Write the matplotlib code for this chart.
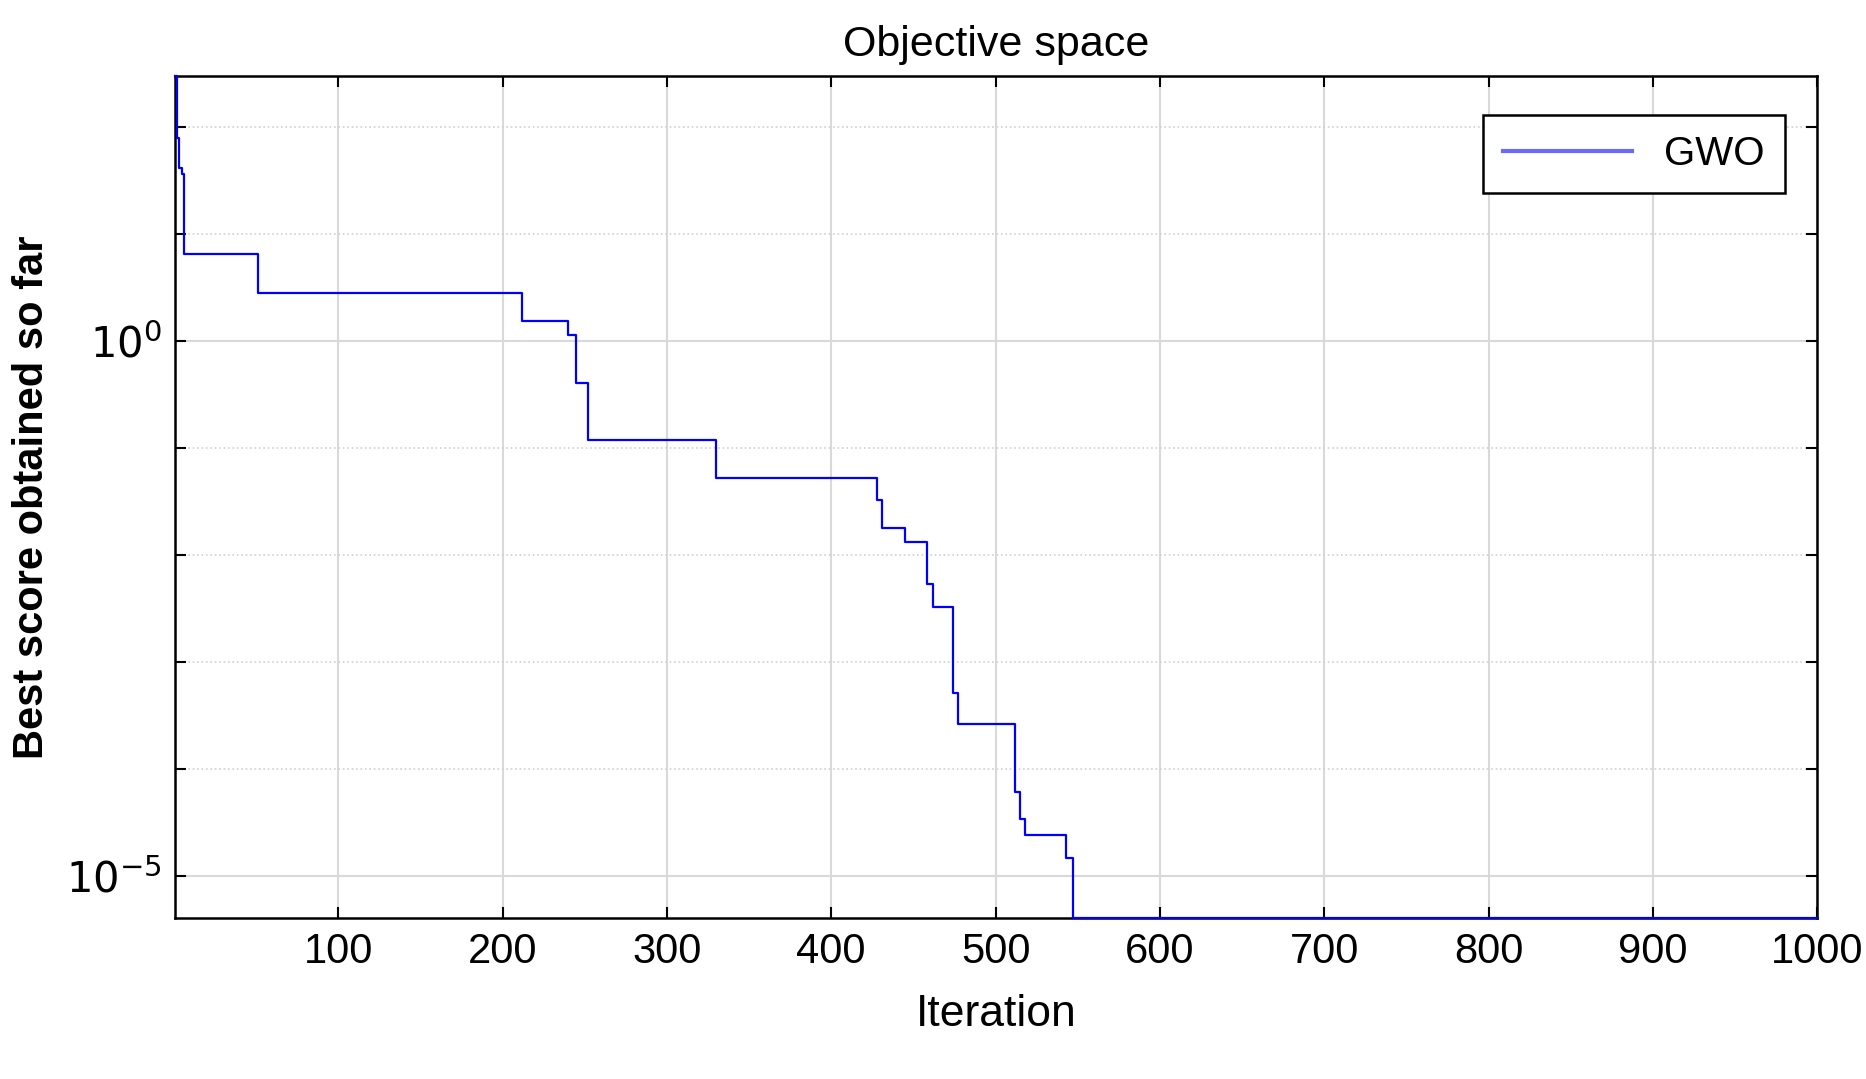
import numpy as np
import matplotlib.pyplot as plt
from matplotlib.ticker import FixedLocator, FixedFormatter

# step curve: iteration where value changes, log10 of best score
iters = [1, 2, 3, 5, 6, 51, 212, 240, 245, 252, 330, 428, 431, 436, 445, 458, 462, 469, 474, 477,
         512, 515, 518, 524, 543, 547, 551, 1000]
log_score = [2.48, 1.9, 1.62, 1.56, 0.81, 0.45, 0.19, 0.06, -0.39, -0.92, -1.28, -1.48, -1.75,
             -1.75, -1.88, -2.27, -2.48, -2.48, -3.29, -3.58, -4.21, -4.46, -4.61, -4.61, -4.83,
             -5.39, -5.39, -5.39]

plt.rcParams['font.family'] = ['Liberation Sans', 'DejaVu Sans']
fig = plt.figure(figsize=(18.66, 10.79), dpi=100)
ax = fig.add_axes([0.094, 0.149, 0.880, 0.781])

y = 10.0 ** np.array(log_score)
ax.step(iters, y, where='post', color='#0000ff', lw=1.6, label='GWO', clip_on=False, zorder=5)
ax.set_yscale('log')
ax.set_xlim(1, 1000)
ax.set_ylim(10 ** -5.39, 10 ** 2.48)

ax.set_xticks(range(100, 1001, 100))
ax.yaxis.set_major_locator(FixedLocator([1e-5, 1e0]))
ax.yaxis.set_major_formatter(FixedFormatter([r'$10^{-5}$', r'$10^{0}$']))
ax.yaxis.set_minor_locator(FixedLocator([10.0 ** k for k in range(-4, 3) if k != 0]))
ax.yaxis.set_minor_formatter(FixedFormatter([]))

ax.grid(True, which='major', color='#d9d9d9', lw=1.5)
ax.grid(True, which='minor', axis='y', color='#d0d0d0', lw=1.2, ls=':')
ax.tick_params(which='both', direction='in', length=8, width=1.5, top=True, right=True,
               labelsize=30, pad=10)
for s in ax.spines.values():
    s.set_linewidth(1.8)

ax.set_title('Objective space', fontsize=31, pad=14)
ax.set_xlabel('Iteration', fontsize=32, labelpad=16)
ax.set_ylabel('Best score obtained so far', fontsize=30, fontweight='bold', labelpad=10)

leg = ax.legend(loc='upper right', fontsize=29, fancybox=False, framealpha=1,
                edgecolor='black', handlelength=3.2, borderpad=0.5, borderaxespad=0,
                bbox_to_anchor=(0.98, 0.953))
leg.get_frame().set_linewidth(1.8)
for l in leg.get_lines():
    l.set_color('#6a6aff')
    l.set_linewidth(3)

fig.savefig('out.png', dpi=100)
